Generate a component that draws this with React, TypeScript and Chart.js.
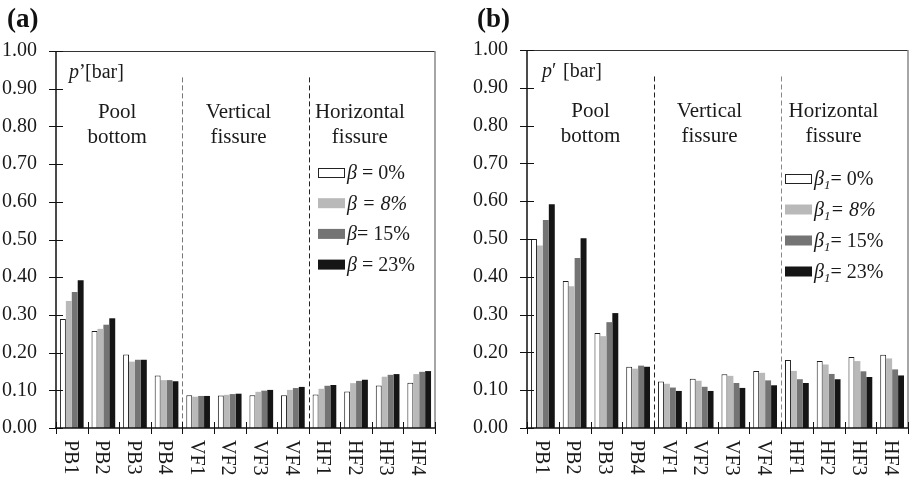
import React, { useEffect, useRef } from "react";
import { Chart, registerables } from "chart.js";
Chart.register(...registerables);

const FONT = '"Liberation Serif", "Times New Roman", serif';

// ---- data ----
const categories = ["PB1", "PB2", "PB3", "PB4", "VF1", "VF2", "VF3", "VF4", "HF1", "HF2", "HF3", "HF4"];
const groupLabels = [["Pool", "bottom"], ["Vertical", "fissure"], ["Horizontal", "fissure"]];

const aBeta0 = [0.289, 0.257, 0.195, 0.139, 0.087, 0.086, 0.087, 0.087, 0.089, 0.097, 0.113, 0.120];
const aBeta8 = [0.337, 0.263, 0.176, 0.127, 0.083, 0.088, 0.096, 0.101, 0.104, 0.119, 0.136, 0.143];
const aBeta15 = [0.361, 0.274, 0.181, 0.127, 0.085, 0.090, 0.099, 0.106, 0.112, 0.125, 0.141, 0.149];
const aBeta23 = [0.392, 0.291, 0.181, 0.124, 0.085, 0.091, 0.101, 0.109, 0.114, 0.128, 0.143, 0.151];

const bBeta0 = [0.500, 0.389, 0.251, 0.162, 0.123, 0.130, 0.142, 0.151, 0.180, 0.177, 0.188, 0.194];
const bBeta8 = [0.483, 0.375, 0.243, 0.157, 0.117, 0.125, 0.138, 0.146, 0.151, 0.168, 0.177, 0.184];
const bBeta15 = [0.550, 0.450, 0.280, 0.165, 0.107, 0.109, 0.119, 0.126, 0.129, 0.143, 0.150, 0.155];
const bBeta23 = [0.592, 0.502, 0.304, 0.162, 0.098, 0.098, 0.106, 0.113, 0.119, 0.129, 0.135, 0.139];

const legendA = ["β = 0%", "β = 8%", "β= 15%", "β = 23%"];
const legendB = ["β1= 0%", "β1= 8%", "β1= 15%", "β1= 23%"];

const yMin = 0;
const yMax = 1;
const yStep = 0.1;
const yTickValues = [0, 0.1, 0.2, 0.3, 0.4, 0.5, 0.6, 0.7, 0.8, 0.9, 1.0];

// ---- styles ----
const barColors = ["#ffffff", "#b9b9b9", "#747474", "#151515"];
const TEXT = "#1a1a1a";

type Cfg = {
  letter: string;
  letterX: number;
  series: number[][];
  legend: string[];
  axisW: number;
  padTop: number;
  padRight: number;
  width: number;
  pX: number;
  prime: string;
  barX: number;
  legendX: number;
  legendY: number;
  legendStep: number;
  sepColors: string[];
  groupDx: number[];
};

const panelA: Cfg = {
  letter: "(a)", letterX: 7, series: [aBeta0, aBeta8, aBeta15, aBeta23], legend: legendA,
  axisW: 56, padTop: 51, padRight: 20, width: 455,
  pX: 13, prime: "’", barX: 29,
  legendX: 262, legendY: 121.5, legendStep: 30.7,
  sepColors: ["#777777", "#222222"], groupDx: [-2, -7, -12],
};
const panelB: Cfg = {
  letter: "(b)", letterX: 22, series: [bBeta0, bBeta8, bBeta15, bBeta23], legend: legendB,
  axisW: 72, padTop: 50, padRight: 1, width: 454,
  pX: 15, prime: "′", barX: 36,
  legendX: 258, legendY: 128.5, legendStep: 31,
  sepColors: ["#222222", "#888888"], groupDx: [0, -8, -11],
};

function drawLegendLabel(ctx: CanvasRenderingContext2D, label: string, x: number, baseline: number, italicRest: boolean) {
  let cx = x;
  ctx.textAlign = "left";
  ctx.textBaseline = "alphabetic";
  ctx.fillStyle = TEXT;
  ctx.font = `italic 20px ${FONT}`;
  ctx.fillText(label[0], cx, baseline);
  cx += ctx.measureText(label[0]).width;
  let rest = label.slice(1);
  if (rest[0] === "1") {
    ctx.font = `italic 13px ${FONT}`;
    ctx.fillText("1", cx, baseline + 4);
    cx += ctx.measureText("1").width;
    rest = rest.slice(1);
  }
  ctx.font = `${italicRest ? "italic " : ""}20px ${FONT}`;
  ctx.fillText(rest, cx, baseline);
}

function makePlugin(cfg: Cfg) {
  return {
    id: "decor",
    afterDraw(chart: any) {
      const ctx: CanvasRenderingContext2D = chart.ctx;
      const { left, right, top, bottom } = chart.chartArea;
      const xs = chart.scales.x;
      const ys = chart.scales.y;
      const n = categories.length;
      const w = (right - left) / n;
      ctx.save();

      // frame: top and right
      ctx.lineWidth = 1;
      ctx.strokeStyle = "#333333";
      ctx.beginPath();
      ctx.moveTo(left, Math.round(top) + 0.5);
      ctx.lineTo(right, Math.round(top) + 0.5);
      ctx.stroke();
      ctx.strokeStyle = "#888888";
      ctx.lineWidth = 1.5;
      ctx.beginPath();
      ctx.moveTo(right, top);
      ctx.lineTo(right, bottom);
      ctx.stroke();

      // separators
      [4, 8].forEach((b, k) => {
        const sx = Math.round(left + b * w) + 0.5;
        ctx.strokeStyle = cfg.sepColors[k];
        ctx.lineWidth = 1;
        ctx.setLineDash([5, 3]);
        ctx.beginPath();
        ctx.moveTo(sx, ys.getPixelForValue(0.93));
        ctx.lineTo(sx, bottom);
        ctx.stroke();
      });
      ctx.setLineDash([]);

      // axes
      ctx.strokeStyle = "#111111";
      ctx.lineWidth = 1.5;
      ctx.beginPath();
      ctx.moveTo(left, top);
      ctx.lineTo(left, bottom);
      ctx.moveTo(left - 1, bottom);
      ctx.lineTo(right, bottom);
      ctx.stroke();

      // y crossing ticks
      ctx.lineWidth = 1;
      yTickValues.forEach((v) => {
        const py = Math.round(ys.getPixelForValue(v)) + 0.5;
        ctx.beginPath();
        ctx.moveTo(left - 7, py);
        ctx.lineTo(left + 7, py);
        ctx.stroke();
      });
      // x crossing ticks at category boundaries
      for (let i = 0; i <= n; i++) {
        const px = Math.round(left + i * w) + 0.5;
        ctx.beginPath();
        ctx.moveTo(px, bottom - 6);
        ctx.lineTo(px, bottom + 6);
        ctx.stroke();
      }

      // x labels rotated clockwise
      ctx.fillStyle = TEXT;
      ctx.font = `20px ${FONT}`;
      categories.forEach((c, i) => {
        const cx = xs.getPixelForValue(i);
        ctx.save();
        ctx.translate(cx - 2, bottom + 12);
        ctx.rotate(Math.PI / 2);
        ctx.textAlign = "left";
        ctx.textBaseline = "middle";
        ctx.fillText(c, 0, 0);
        ctx.restore();
      });

      // group labels
      ctx.font = `21px ${FONT}`;
      ctx.textAlign = "center";
      ctx.textBaseline = "alphabetic";
      groupLabels.forEach((lines, g) => {
        const cx = left + (g * 4 + 2) * w + cfg.groupDx[g];
        ctx.fillText(lines[0], cx, top + 67);
        ctx.fillText(lines[1], cx, top + 92);
      });

      // p' [bar]
      ctx.textAlign = "left";
      ctx.font = `italic 20px ${FONT}`;
      ctx.fillText("p", left + cfg.pX, top + 27);
      const pw = ctx.measureText("p").width;
      ctx.font = `20px ${FONT}`;
      ctx.fillText(cfg.prime, left + cfg.pX + pw, top + 27);
      ctx.fillText("[bar]", left + cfg.barX, top + 27);

      // legend
      chart.data.datasets.forEach((ds: any, i: number) => {
        const cy = top + cfg.legendY + i * cfg.legendStep;
        const bx = left + cfg.legendX;
        ctx.fillStyle = ds.backgroundColor;
        ctx.fillRect(bx, cy - 5, 27, 10);
        if (i === 0) {
          ctx.strokeStyle = "#222222";
          ctx.lineWidth = 1;
          ctx.strokeRect(Math.round(bx) + 0.5, Math.round(cy - 5) + 0.5, 26, 9);
        }
        drawLegendLabel(ctx, ds.label, bx + 29, cy + 6.5, i === 1);
      });

      // panel letter
      ctx.fillStyle = "#111111";
      ctx.font = `bold 27px ${FONT}`;
      ctx.textAlign = "left";
      ctx.fillText(cfg.letter, cfg.letterX, 27);

      ctx.restore();
    },
  };
}

function Panel({ cfg, left }: { cfg: Cfg; left: number }) {
  const ref = useRef<HTMLCanvasElement | null>(null);
  useEffect(() => {
    if (!ref.current) return;
    const chart = new Chart(ref.current, {
      type: "bar",
      data: {
        labels: categories,
        datasets: cfg.series.map((s, i) => ({
          label: cfg.legend[i],
          data: s,
          backgroundColor: barColors[i],
          borderColor: "#1e1e1e",
          borderWidth: i === 0 ? 1 : 0,
          categoryPercentage: 0.75,
          barPercentage: 1.0,
        })),
      },
      options: {
        animation: false,
        responsive: false,
        layout: { padding: { top: cfg.padTop, right: cfg.padRight, left: 0, bottom: 0 } },
        plugins: { legend: { display: false }, tooltip: { enabled: false } },
        scales: {
          x: {
            grid: { display: false, drawTicks: false },
            border: { display: false },
            ticks: { display: false },
            afterFit: (s: any) => { s.height = 52; },
          },
          y: {
            min: yMin,
            max: yMax,
            grid: { display: false, drawTicks: false },
            border: { display: false },
            ticks: {
              stepSize: yStep,
              autoSkip: false,
              padding: 19,
              color: TEXT,
              font: { family: FONT, size: 20 },
              callback: (v: any) => Number(v).toFixed(2),
            },
            afterFit: (s: any) => { s.width = cfg.axisW; },
          },
        },
      },
      plugins: [makePlugin(cfg)],
    } as any);
    return () => chart.destroy();
  }, [cfg]);
  return (
    <canvas
      ref={ref}
      width={cfg.width}
      height={480}
      style={{ position: "absolute", left, top: 0, width: cfg.width, height: 480 }}
    />
  );
}

export default function App() {
  return (
    <div style={{ position: "absolute", left: 0, top: 0, width: 909, height: 480, background: "#ffffff" }}>
      <Panel cfg={panelA} left={0} />
      <Panel cfg={panelB} left={455} />
    </div>
  );
}
